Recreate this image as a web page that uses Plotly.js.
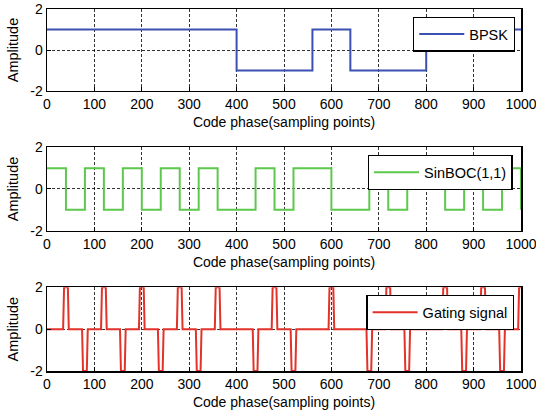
<!DOCTYPE html>
<html>
<head>
<meta charset="utf-8">
<script src="https://cdn.plot.ly/plotly-3.0.1.min.js"></script>
<style>html,body{margin:0;padding:0;background:#fff;}#chart{width:536px;height:415px;}</style>
</head>
<body>
<div id="chart"></div>
<script>
// ---- data ----
const xTickVals = [0,100,200,300,400,500,600,700,800,900,1000];
const yTickVals = [-2,0,2];
const yTickText = ['-2','0','2'];

// BPSK: value starting at each change point (step 'hv')
const bpskX = [0,400,560,640,800,1000];
const bpskY = [1,-1,1,-1,1,1];

// SinBOC(1,1): value starting at each change point (step 'hv')
const bocX = [0,40,80,120,160,200,240,280,320,360,440,480,520,600,680,720,760,840,880,920,960,1000];
const bocY = [1,-1,1,-1,1,-1,1,-1,1,-1,1,-1,1,-1,1,-1,1,-1,1,-1,1,-1];

// Gating signal: pulse centres and amplitudes, pulse edges (samples)
const gateCenters = [40,80,120,160,200,240,280,320,360,440,480,520,600,680,720,760,840,880,920,960,1000];
const gateAmps    = [2,-2,2,-2,2,-2,2,-2,2,-2,2,-2,2,-2,2,-2,2,-2,2,-2,2];
const gateBaseHalf = 6;   // half width at base (samples)
const gateTopHalf  = 4;   // half width at top (samples)
const xMax = 1000;

// build gating polyline from the pulse list
const gateX = [0], gateY = [0];
gateCenters.forEach((c, i) => {
  const a = gateAmps[i];
  const pts = [[c - gateBaseHalf, 0], [c - gateTopHalf, a], [c + gateTopHalf, a], [c + gateBaseHalf, 0]];
  pts.forEach(p => { if (p[0] <= xMax) { gateX.push(p[0]); gateY.push(p[1]); } });
});
if (gateX[gateX.length - 1] < xMax) { gateX.push(xMax); gateY.push(gateY[gateY.length - 1]); }

const FONT = 'Liberation Sans, Arial, Helvetica, sans-serif';

function xAxis(anchor) {
  return {
    anchor: anchor, range: [0, 1000], tickvals: xTickVals, ticktext: xTickVals.map(String),
    showgrid: true, gridcolor: '#000', griddash: '3px,2px', gridwidth: 0.8,
    zeroline: false, showline: true, linecolor: '#000', linewidth: 1.5, mirror: true,
    ticks: 'inside', ticklen: 4, tickcolor: '#000', tickfont: {size: 14, family: FONT, color: '#000'},
    ticklabeloverflow: 'allow',
    title: {text: 'Code phase(sampling points)', font: {size: 14, family: FONT, color: '#000'}, standoff: 6},
    fixedrange: true
  };
}
function yAxis(domain) {
  return {
    domain: domain, range: [-2, 2], tickvals: yTickVals, ticktext: yTickText,
    showgrid: true, gridcolor: '#000', griddash: '3px,2px', gridwidth: 0.8,
    zeroline: false, showline: true, linecolor: '#000', linewidth: 1.5, mirror: true,
    ticks: 'inside', ticklen: 4, tickcolor: '#000', tickfont: {size: 14, family: FONT, color: '#000'},
    ticklabeloverflow: 'allow',
    title: {text: 'Amplitude', font: {size: 14.5, family: FONT, color: '#000'}, standoff: 8},
    fixedrange: true
  };
}
function legendBox(x, y) {
  return {
    x: x, y: y, xanchor: 'right', yanchor: 'top', bgcolor: '#fff', itemwidth: 45,
    bordercolor: '#000', borderwidth: 1.3, font: {size: 14.5, family: FONT, color: '#000'}
  };
}

const traces = [
  {x: bpskX, y: bpskY, type: 'scatter', mode: 'lines', line: {shape: 'hv', color: '#3a50b2', width: 2},
   name: 'BPSK', xaxis: 'x', yaxis: 'y', legend: 'legend'},
  {x: bocX, y: bocY, type: 'scatter', mode: 'lines', line: {shape: 'hv', color: '#5cc84c', width: 2},
   name: 'SinBOC(1,1)', xaxis: 'x2', yaxis: 'y2', legend: 'legend2'},
  {x: gateX, y: gateY, type: 'scatter', mode: 'lines', line: {color: '#e2322a', width: 2},
   name: 'Gating signal', xaxis: 'x3', yaxis: 'y3', legend: 'legend3'}
];

const layout = {
  width: 536, height: 415,
  margin: {l: 47, r: 15, t: 9, b: 44},
  paper_bgcolor: '#fff', plot_bgcolor: '#fff',
  font: {family: FONT, size: 14, color: '#000'},
  showlegend: true,
  xaxis: xAxis('y'), yaxis: yAxis([0.7735, 1]),
  xaxis2: xAxis('y2'), yaxis2: yAxis([0.3876, 0.618]),
  xaxis3: xAxis('y3'), yaxis3: yAxis([0, 0.2312]),
  legend: legendBox(0.9873, 0.9787),
  legend2: legendBox(0.9825, 0.5967),
  legend3: legendBox(0.9859, 0.2099)
};

Plotly.newPlot('chart', traces, layout, {displayModeBar: false, staticPlot: true});
</script>
</body>
</html>
